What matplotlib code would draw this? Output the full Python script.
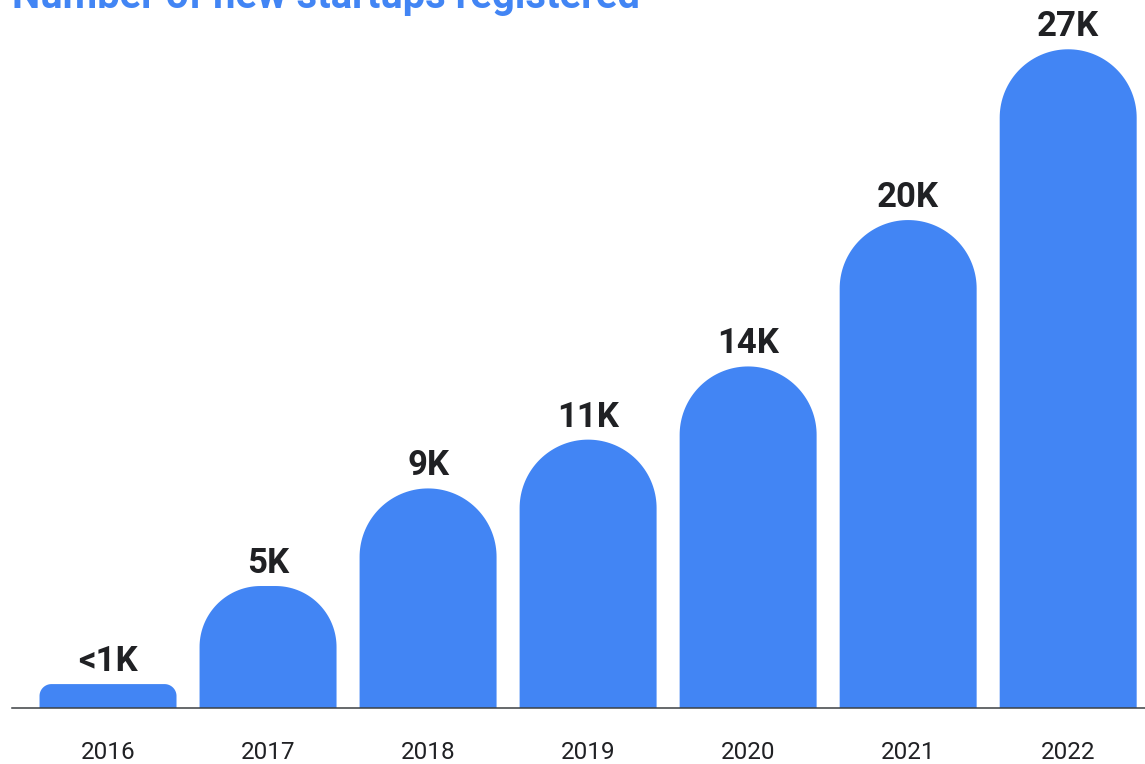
import numpy as np
import matplotlib
matplotlib.use("Agg")
import matplotlib.pyplot as plt
from matplotlib.patches import Polygon

years = ["2016", "2017", "2018", "2019", "2020", "2021", "2022"]
startups_k = [0.98, 5, 9, 11, 14, 20, 27]
labels = ["<1K", "5K", "9K", "11K", "14K", "20K", "27K"]

BLUE = "#4285F4"
DARK = "#202124"

plt.rcParams['font.family'] = ['Roboto', 'DejaVu Sans']

W, H = 1145, 764
fig = plt.figure(figsize=(W / 100, H / 100), dpi=100)
ax = fig.add_axes([12 / W, 56 / H, (W - 12) / W, 708 / H])
ax.set_xlim(-0.6, 6.48)
ax.set_ylim(0, 29.02)

bar_w = 0.856
x = np.arange(len(years))

# pixel scale, so the rounded tops come out circular
p0 = ax.transData.transform((0, 0))
p1 = ax.transData.transform((1, 1))
sx = p1[0] - p0[0]
sy = p1[1] - p0[1]


def rounded_bar(xc, h):
    x0, x1 = xc - bar_w / 2, xc + bar_w / 2
    r = min(bar_w * sx / 2, h * sy / 2)
    rx, ry = r / sx, r / sy
    t1 = np.linspace(np.pi, np.pi / 2, 40)
    t2 = np.linspace(np.pi / 2, 0, 40)
    left = np.column_stack([x0 + rx + rx * np.cos(t1), h - ry + ry * np.sin(t1)])
    right = np.column_stack([x1 - rx + rx * np.cos(t2), h - ry + ry * np.sin(t2)])
    pts = np.vstack([[x0, 0], left, right, [x1, 0]])
    return Polygon(pts, closed=True, facecolor=BLUE, edgecolor='none')


for xi, v, lab in zip(x, startups_k, labels):
    ax.add_patch(rounded_bar(xi, v))
    ax.annotate(lab, (xi, v), xytext=(0, 9.4), textcoords='offset points',
                ha='center', va='baseline', fontsize=25, fontweight='bold', color=DARK)

for s in ['top', 'right', 'left']:
    ax.spines[s].set_visible(False)
ax.spines['bottom'].set_color('#3c4043')
ax.spines['bottom'].set_linewidth(1.1)
ax.set_yticks([])
ax.set_xticks(x)
ax.set_xticklabels(years, fontsize=17.5, color=DARK)
ax.tick_params(axis='x', length=0, pad=23.5)

fig.text(12 / W, 1 - 8 / H, "Number of new startups registered", color=BLUE,
         fontsize=28.8, fontweight='bold', ha='left', va='baseline')

fig.savefig("out.png", dpi=100)
